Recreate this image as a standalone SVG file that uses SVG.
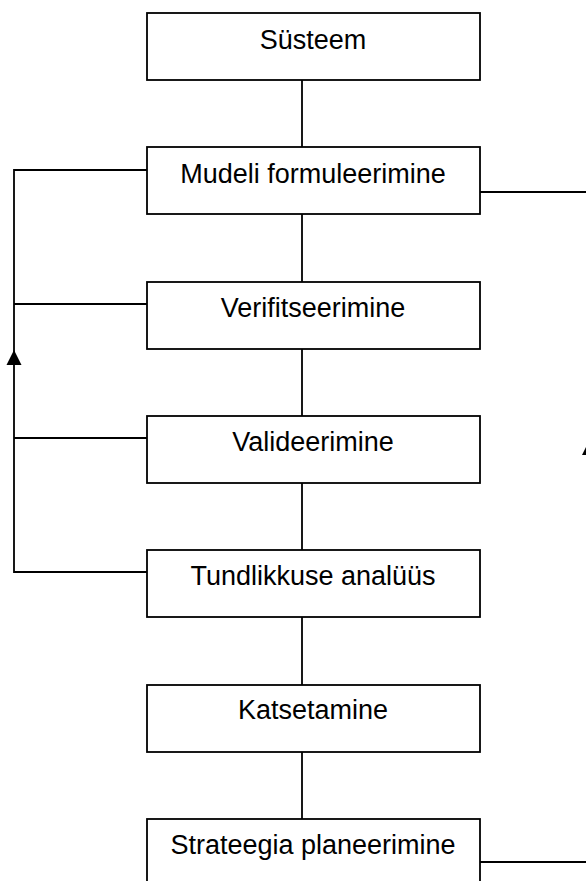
<svg xmlns="http://www.w3.org/2000/svg" width="586" height="881" viewBox="0 0 586 881">
<style>
.box{fill:#fff;stroke:#000;stroke-width:1.8}
.lbl{font-family:"Liberation Sans",Arial,sans-serif;font-size:27px;fill:#000;text-anchor:middle}
.ln{fill:none;stroke:#000;stroke-width:1.8}
.ah{fill:#000;stroke:none}
</style>
<rect width="586" height="881" fill="#fff"/>
<g id="connectors">
<path class="ln" d="M302 80V147M302 214V282M302 349V416M302 483V550M302 617V685M302 752V819"/>
<path class="ln" d="M147 170H14V572H147M14 304H147M14 438H147"/>
<polygon class="ah" points="14,350 6.5,365 21.5,365"/>
<path class="ln" d="M480 192H589.5V862H480"/>
<polygon class="ah" points="589.5,440 582,455 597,455"/>
</g>
<g id="n1"><rect class="box" x="147" y="13" width="333" height="67"/><text class="lbl" x="313" y="49">Süsteem</text></g>
<g id="n2"><rect class="box" x="147" y="147" width="333" height="67"/><text class="lbl" x="313" y="183">Mudeli formuleerimine</text></g>
<g id="n3"><rect class="box" x="147" y="282" width="333" height="67"/><text class="lbl" x="313" y="317">Verifitseerimine</text></g>
<g id="n4"><rect class="box" x="147" y="416" width="333" height="67"/><text class="lbl" x="313" y="451">Valideerimine</text></g>
<g id="n5"><rect class="box" x="147" y="550" width="333" height="67"/><text class="lbl" x="313" y="585">Tundlikkuse analüüs</text></g>
<g id="n6"><rect class="box" x="147" y="685" width="333" height="67"/><text class="lbl" x="313" y="719">Katsetamine</text></g>
<g id="n7"><rect class="box" x="147" y="819" width="333" height="67"/><text class="lbl" x="313" y="854">Strateegia planeerimine</text></g>
</svg>
